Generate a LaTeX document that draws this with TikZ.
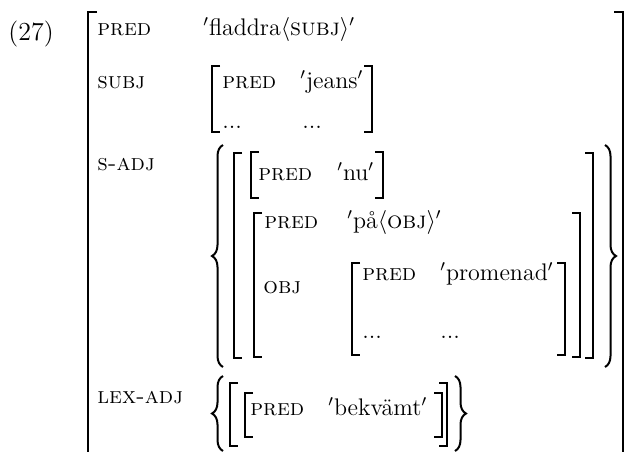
\documentclass[tikz,border=0pt]{standalone}
\usepackage{tikz}
\usetikzlibrary{decorations.pathreplacing}
\tikzset{
  attr/.style={anchor=base west,inner sep=0pt,font=\fontsize{11.5}{13}\selectfont\scshape},
  val/.style={anchor=base west,inner sep=0pt,font=\fontsize{12}{14}\selectfont},
  brk/.style={line width=0.9pt},
  lbrc/.style={line width=1pt,decorate,decoration={brace,amplitude=5.5pt}},
}
% bracket: x, top, bottom
\newcommand{\lbrk}[3]{\draw[brk] (#1+8,#2) -- (#1,#2) -- (#1,#3) -- (#1+8,#3);}
\newcommand{\rbrk}[3]{\draw[brk] (#1-8,#2) -- (#1,#2) -- (#1,#3) -- (#1-8,#3);}

\begin{document}
\begin{tikzpicture}[x=0.5pt,y=-0.5pt]
	\useasboundingbox (0,0) rectangle (627,452);
	
	\node[val,font=\fontsize{13}{15}\selectfont] (ex) at (8,40) {(27)};
	
	% outer f-structure
	\draw[brk] (97,12) -- (88,12) -- (88,452);
	\draw[brk] (614,12) -- (623,12) -- (623,452);
	
	\node[attr] (pred) at (97,35) {pred};
	\node[val]  (fladdra) at (203,35) {$'$fladdra$\langle$\textsc{subj}$\rangle'$};
	
	\node[attr] (subj) at (97,88) {subj};
	\lbrk{212}{66}{132} \rbrk{372}{66}{132}
	\node[attr] (subjpred) at (222,88) {pred};
	\node[val]  (jeans) at (300,88) {$'$jeans$'$};
	\node[val]  (subjdots) at (222,128) {...};
	\node[val]  (subjdotsv) at (302,128) {...};
	
	% s-adj set
	\node[attr] (sadj) at (97,170) {s-adj};
	\draw[lbrc] (223,367) -- (223,145);
	\draw[lbrc] (605,145) -- (605,367);
	\lbrk{234}{153}{358} \rbrk{593}{153}{358}
	
	\lbrk{251}{152}{198} \rbrk{383}{152}{198}
	\node[attr] (nupred) at (258,180) {pred};
	\node[val]  (nu) at (337,180) {$'$nu$'$};
	
	\lbrk{254}{213}{357} \rbrk{580}{213}{357}
	\node[attr] (papred) at (264,228) {pred};
	\node[val]  (pa) at (347,228) {$'$på$\langle$\textsc{obj}$\rangle'$};
	\node[attr] (obj) at (263,293) {obj};
	
	\lbrk{352}{263}{355} \rbrk{565}{263}{355}
	\node[attr] (objpred) at (362,280) {pred};
	\node[val]  (promenad) at (440,280) {$'$promenad$'$};
	\node[val]  (objdots) at (362,338) {...};
	\node[val]  (objdotsv) at (440,338) {...};
	
	% lex-adj set
	\node[attr] (lexadj) at (97,403) {lex-adj};
	\draw[lbrc] (223,451) -- (223,376);
	\draw[lbrc] (455,376) -- (455,451);
	\lbrk{230}{383}{446} \rbrk{447}{383}{446}
	\lbrk{245}{393}{437} \rbrk{442}{393}{437}
	\node[attr] (lexpred) at (250,415) {pred};
	\node[val]  (bekvamt) at (328,415) {$'$bekvämt$'$};
\end{tikzpicture}
\end{document}
